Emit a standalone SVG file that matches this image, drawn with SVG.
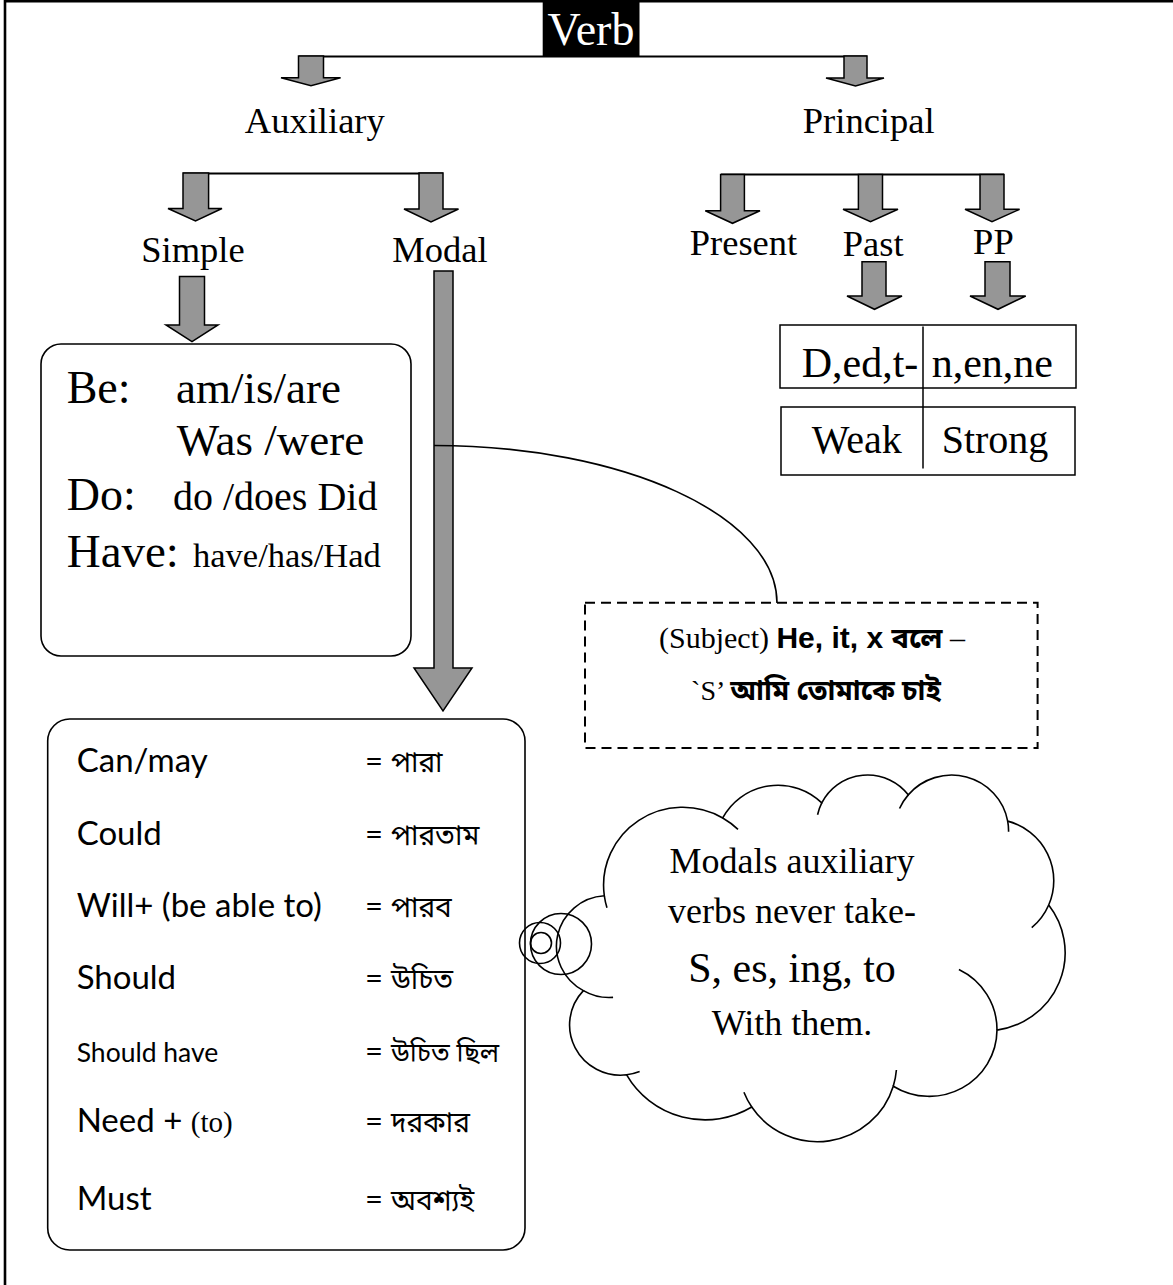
<svg xmlns="http://www.w3.org/2000/svg" width="1173" height="1285" viewBox="0 0 1173 1285">
<style>
 .serif{font-family:"Liberation Serif","Times New Roman",serif;fill:#000}
 .sans{font-family:Lato,"Noto Sans Bengali","Noto Serif Bengali","Lohit Bengali",FreeSerif,sans-serif;fill:#000}
 .bsans{font-family:"Liberation Sans",Arial,sans-serif;font-weight:bold}
 .bn{font-family:"Noto Sans Bengali","Noto Serif Bengali","Lohit Bengali",FreeSerif,sans-serif}
 .bnc{font-size:28px}
 .arr{fill:#969696;stroke:#000;stroke-width:1.5;stroke-linejoin:miter}
 .ln{stroke:#000;stroke-width:2;fill:none}
 .box{fill:#fff;stroke:#000;stroke-width:1.6}
 .cl{fill:none;stroke:#000;stroke-width:1.6;vector-effect:non-scaling-stroke}
</style>
<rect x="0" y="0" width="1173" height="1285" fill="#fff"/>
<g id="frame">
 <line x1="5" y1="0" x2="5" y2="1285" stroke="#000" stroke-width="2.6"/>
 <line x1="4" y1="1.2" x2="1173" y2="1.2" stroke="#000" stroke-width="2.6"/>
</g>
<g id="connectors">
 <line class="ln" x1="299" y1="56.5" x2="867" y2="56.5"/>
 <line class="ln" x1="183" y1="173.5" x2="443" y2="173.5"/>
 <line class="ln" x1="721" y1="174.5" x2="1004" y2="174.5"/>
 <polygon class="arr" points="298.5,56 323.5,56 323.5,77.7 340.6,77.7 311,85.7 281,77.7 298.5,77.7"/>
 <polygon class="arr" points="844,56 867,56 867,78 884,78 855.5,86 826,78 844,78"/>
 <polygon class="arr" points="183,173 208.6,173 208.6,208.5 222,208.5 195.5,221 168,208.5 183,208.5"/>
 <polygon class="arr" points="419,173 443,173 443,209 458.5,209 431,222 404,209 419,209"/>
 <polygon class="arr" points="720.6,174.5 744.4,174.5 744.4,210.7 760,210.7 732.5,223.3 705.3,210.7 720.6,210.7"/>
 <polygon class="arr" points="858.4,174.5 882.5,174.5 882.5,209.3 898,209.3 870.5,221.7 843,209.3 858.4,209.3"/>
 <polygon class="arr" points="980,174.5 1004,174.5 1004,209.3 1019.6,209.3 992,221.7 965,209.3 980,209.3"/>
 <polygon class="arr" points="179.5,276.5 204.5,276.5 204.5,325 218,325 192,341.7 166,325 179.5,325"/>
 <polygon class="arr" points="434,271 453,271 453,668 472,668 443,711 414,668 434,668"/>
 <polygon class="arr" points="862,261.7 886,261.7 886,296 902,296 874.5,309.3 847,296 862,296"/>
 <polygon class="arr" points="985,261.7 1010,261.7 1010,296 1025.7,296 998,309.3 970,296 985,296"/>
 <path class="ln" style="stroke-width:1.6" d="M434,445.5 C624,445.5 777,516 777,603"/>
</g>
<g id="node-verb">
 <rect x="542.7" y="1.5" width="96.8" height="54.5" fill="#000"/>
 <text class="serif" x="591" y="45" font-size="46" text-anchor="middle" style="fill:#fff">Verb</text>
</g>
<g id="node-auxiliary"><text class="serif" x="314.8" y="133" font-size="36.5" text-anchor="middle">Auxiliary</text></g>
<g id="node-principal"><text class="serif" x="868.7" y="133" font-size="36.5" text-anchor="middle">Principal</text></g>
<g id="node-simple"><text class="serif" x="193" y="262" font-size="36.5" text-anchor="middle">Simple</text></g>
<g id="node-modal"><text class="serif" x="440" y="262" font-size="36.5" text-anchor="middle">Modal</text></g>
<g id="node-present"><text class="serif" x="743.5" y="255" font-size="36.5" text-anchor="middle">Present</text></g>
<g id="node-past"><text class="serif" x="873.2" y="256" font-size="36.5" text-anchor="middle">Past</text></g>
<g id="node-pp"><text class="serif" x="993.4" y="254" font-size="36.5" text-anchor="middle">PP</text></g>
<g id="node-table">
 <rect class="box" x="780" y="325" width="296" height="63" style="stroke-width:1.5"/>
 <rect class="box" x="781" y="407" width="294" height="68" style="stroke-width:1.5"/>
 <line x1="923" y1="326.5" x2="923" y2="468.5" stroke="#000" stroke-width="1.5"/>
 <text class="serif" x="801.7" y="376.7" font-size="42">D,ed,t-</text>
 <text class="serif" x="931.7" y="376.7" font-size="42">n,en,ne</text>
 <text class="serif" x="811.7" y="453.3" font-size="40">Weak</text>
 <text class="serif" x="941.7" y="453.3" font-size="40">Strong</text>
</g>
<g id="node-simple-box">
 <rect class="box" x="41" y="344" width="370" height="312" rx="20" ry="20"/>
 <text class="serif" x="66.7" y="403" font-size="46">Be:</text>
 <text class="serif" x="176" y="403" font-size="45">am/is/are</text>
 <text class="serif" x="176.7" y="455" font-size="45">Was /were</text>
 <text class="serif" x="66.7" y="510" font-size="46">Do:</text>
 <text class="serif" x="173" y="510" font-size="40">do /does Did</text>
 <text class="serif" x="66.7" y="567" font-size="47">Have:</text>
 <text class="serif" x="193" y="567" font-size="34.5">have/has/Had</text>
</g>
<g id="node-note">
 <rect x="585" y="602.7" width="452.6" height="145.3" fill="none" stroke="#000" stroke-width="2" stroke-dasharray="10,6"/>
 <text x="812" y="648" text-anchor="middle"><tspan class="serif" font-size="30">(Subject) </tspan><tspan class="bsans" font-size="30">He, it, x </tspan><tspan class="bn" font-size="29" font-weight="bold">বলে</tspan><tspan class="serif" font-size="30"> –</tspan></text>
 <text x="816" y="700" font-size="28" text-anchor="middle"><tspan class="serif">`S’ </tspan><tspan class="bn" font-weight="bold">আমি তোমাকে চাই</tspan></text>
</g>
<g id="node-modal-box">
 <rect class="box" x="47.7" y="719" width="477.3" height="531" rx="22" ry="22"/>
 <text class="sans" x="76.7" y="771.7" font-size="33">Can/may</text>
 <text class="sans" x="76.7" y="845" font-size="33">Could</text>
 <text class="sans" x="76.7" y="916.7" font-size="33">Will+ (be able to)</text>
 <text class="sans" x="76.7" y="989" font-size="33">Should</text>
 <text class="sans" x="76.7" y="1061.7" font-size="26.5">Should have</text>
 <text x="76.7" y="1131.7"><tspan class="sans" font-size="33">Need + </tspan><tspan class="serif" font-size="29">(to)</tspan></text>
 <text class="sans" x="76.7" y="1210" font-size="33">Must</text>
 <text class="sans" x="365" y="771.7" font-size="31">= <tspan class="bnc">পারা</tspan></text>
 <text class="sans" x="365" y="845" font-size="31">= <tspan class="bnc">পারতাম</tspan></text>
 <text class="sans" x="365" y="916.7" font-size="31">= <tspan class="bnc">পারব</tspan></text>
 <text class="sans" x="365" y="989" font-size="31">= <tspan class="bnc">উচিত</tspan></text>
 <text class="sans" x="365" y="1061.7" font-size="31">= <tspan class="bnc" style="font-size:26.5px">উচিত ছিল</tspan></text>
 <text class="sans" x="365" y="1131.7" font-size="31">= <tspan class="bnc">দরকার</tspan></text>
 <text class="sans" x="365" y="1210" font-size="31">= <tspan class="bnc">অবশ্যই</tspan></text>
</g>
<g id="node-cloud">
 <g transform="translate(558.6 773.8) scale(0.01172 0.008486)">
  <path class="cl" style="fill:#fff" d="M3900,14370 A6753,9190 0 0 1 14004,5202 A5333,7267 0 0 1 22456,3434 A4365,5945 0 0 1 29833,2482 A4857,6595 0 0 1 38318,5577 A5333,7273 0 0 1 41818,15461 A6775,9220 0 0 1 37405,30205 A5785,7867 0 0 1 28556,36815 A6752,9215 0 0 1 16482,39268 A7720,10543 0 0 1 5805,35473 A4360,5918 0 0 1 2115,25550 A4345,5945 0 0 1 3900,14370 Z"/>
  <path class="cl" d="M4648,26347 A4345,5945 0 0 1 2115,25550 M6914,35091 A4360,5918 0 0 1 5805,35473 M16482,39268 A6752,9215 0 0 1 15813,37526 M28823,34906 A6752,9215 0 0 1 28556,36815 M34156,23071 A5785,7867 0 0 1 37405,30205 M41818,15461 A5333,7273 0 0 1 40370,18137 M38318,5577 A4857,6595 0 0 1 38394,6840 M29091,4093 A4857,6595 0 0 1 29833,2482 M22097,4823 A4365,5945 0 0 1 22456,3434 M14004,5202 A6753,9190 0 0 1 15306,6553 M4127,15789 A6753,9190 0 0 1 3900,14370"/>
 </g>
 <circle cx="561" cy="944" r="30.5" fill="none" stroke="#000" stroke-width="1.6"/>
 <circle cx="540" cy="943" r="20.5" fill="none" stroke="#000" stroke-width="1.6"/>
 <circle cx="541" cy="943" r="10.5" fill="none" stroke="#000" stroke-width="1.6"/>
 <text class="serif" x="792" y="873.3" font-size="36" text-anchor="middle">Modals auxiliary</text>
 <text class="serif" x="792" y="923.3" font-size="36" text-anchor="middle">verbs never take-</text>
 <text class="serif" x="792" y="981.7" font-size="42" text-anchor="middle">S, es, ing, to</text>
 <text class="serif" x="792" y="1035" font-size="36" text-anchor="middle">With them.</text>
</g>
</svg>
